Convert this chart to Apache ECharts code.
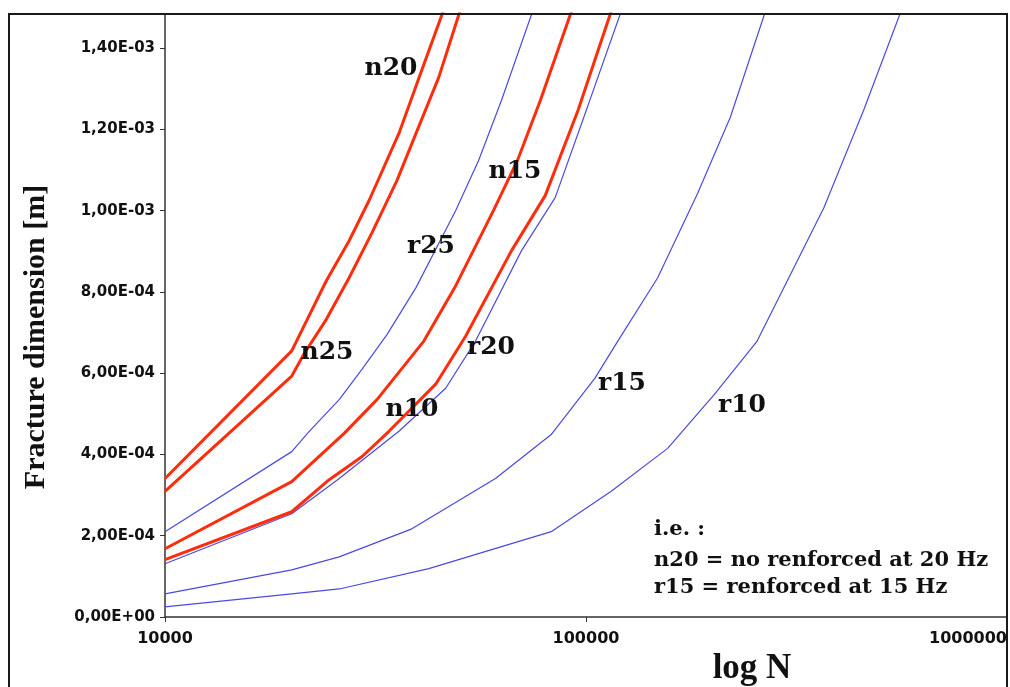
<!DOCTYPE html>
<html>
<head>
<meta charset="utf-8">
<script src="https://cdn.jsdelivr.net/npm/echarts@6/dist/echarts.min.js"></script>
<style>
  html, body { margin: 0; padding: 0; background: #fff; }
  #main { width: 1010px; height: 687px; }
</style>
</head>
<body>
<div id="main"></div>
<script>
// curves: [N, fracture dimension in m]
var n20 = [[10000, 0.341e-3], [20000, 0.655e-3], [24150, 0.827e-3],
  [27380, 0.926e-3], [30530, 1.025e-3], [35940, 1.190e-3], [40740, 1.346e-3], [45430, 1.481e-3], [48800, 1.568e-3]];
var n25 = [[10000, 0.309e-3], [20000, 0.593e-3], [21430, 0.649e-3], [24020, 0.728e-3], [27380, 0.835e-3],
  [31030, 0.946e-3], [35550, 1.074e-3], [38580, 1.165e-3], [44690, 1.328e-3], [49830, 1.481e-3], [53000, 1.560e-3]];
var r25 = [[10000, 0.210e-3], [20000, 0.407e-3], [22010, 0.457e-3], [25930, 0.535e-3], [29390, 0.610e-3],
  [33670, 0.695e-3], [39430, 0.810e-3], [49010, 1.000e-3], [55540, 1.123e-3], [62970, 1.271e-3], [74130, 1.481e-3], [80000, 1.560e-3]];
var n15 = [[10000, 0.168e-3], [20000, 0.333e-3], [26640, 0.452e-3], [31880, 0.535e-3], [41190, 0.679e-3],
  [48750, 0.810e-3], [60270, 1.000e-3], [68700, 1.123e-3], [77890, 1.271e-3], [91660, 1.481e-3], [98000, 1.560e-3]];
var n10 = [[10000, 0.141e-3], [20000, 0.259e-3], [24550, 0.338e-3], [29390, 0.395e-3], [34040, 0.457e-3],
  [43950, 0.573e-3], [51760, 0.691e-3], [66500, 0.901e-3], [80000, 1.037e-3], [95750, 1.247e-3], [113950, 1.481e-3], [121000, 1.560e-3]];
var r20 = [[10000, 0.131e-3], [20000, 0.254e-3], [25930, 0.341e-3], [35940, 0.457e-3], [46420, 0.563e-3],
  [54650, 0.679e-3], [70230, 0.901e-3], [84480, 1.032e-3], [101100, 1.259e-3], [120310, 1.481e-3], [127000, 1.560e-3]];
var r15 = [[10000, 0.057e-3], [20000, 0.116e-3], [25930, 0.148e-3], [38580, 0.217e-3], [60950, 0.341e-3],
  [82670, 0.449e-3], [105030, 0.588e-3], [119010, 0.679e-3], [148010, 0.835e-3], [184070, 1.042e-3],
  [220200, 1.230e-3], [264900, 1.481e-3], [278000, 1.560e-3]];
var r10 = [[10000, 0.025e-3], [20000, 0.057e-3], [25930, 0.069e-3], [42330, 0.119e-3], [82670, 0.210e-3],
  [114580, 0.309e-3], [156300, 0.415e-3], [201800, 0.548e-3], [255000, 0.679e-3], [367300, 1.007e-3],
  [456500, 1.247e-3], [555500, 1.481e-3], [585000, 1.560e-3]];

var redCurves = { n20: n20, n25: n25, n15: n15, n10: n10 };
var blueCurves = { r25: r25, r20: r20, r15: r15, r10: r10 };

var yMin = 0, yMax = 1.484e-3, yStep = 2e-4;
var xMin = 10000, xMax = 1000000;

var legendLines = ['i.e. :', 'n20 = no renforced at 20 Hz', 'r15 = renforced at 15 Hz'];

function sciLabel(v) {
  if (Math.abs(v) < 1e-12) return '0,00E+00';
  var parts = v.toExponential(2).split('e');
  var ex = parseInt(parts[1], 10);
  return parts[0].replace('.', ',') + 'E' + (ex < 0 ? '-' : '+') + String(Math.abs(ex)).padStart(2, '0');
}

var chart = echarts.init(document.getElementById('main'), null, { renderer: 'canvas' });

var series = [];
Object.keys(redCurves).forEach(function (k) {
  series.push({
    name: k, type: 'line', data: redCurves[k], showSymbol: false, smooth: false, clip: true,
    lineStyle: { color: '#ff2d0c', width: 3 }, z: 3
  });
});
Object.keys(blueCurves).forEach(function (k) {
  series.push({
    name: k, type: 'line', data: blueCurves[k], showSymbol: false, smooth: false, clip: true,
    lineStyle: { color: '#4a4ae0', width: 1.2 }, z: 2
  });
});

var labelFont = 'bold 25px "DejaVu Serif"';
function curveLabel(text, x, y) {
  return {
    type: 'text', x: x, y: y, z: 10,
    style: { text: text, font: labelFont, fill: '#111', align: 'center', verticalAlign: 'middle' }
  };
}

var option = {
  animation: false,
  backgroundColor: '#fff',
  grid: { left: 165, top: 14, right: 3, bottom: 70 },
  xAxis: {
    type: 'log', logBase: 10, min: xMin, max: xMax,
    axisLine: { onZero: false, lineStyle: { color: '#333', width: 1.5 } },
    axisTick: { length: 5, lineStyle: { color: '#333' } },
    minorTick: { show: false },
    splitLine: { show: false },
    axisLabel: {
      margin: 14, color: '#111', fontFamily: 'DejaVu Sans', fontWeight: 'bold', fontSize: 16,
      alignMaxLabel: 'right',
      formatter: function (v) { return String(Math.round(v)); }
    }
  },
  yAxis: {
    type: 'value', min: yMin, max: yMax, interval: yStep,
    axisLine: { show: true, lineStyle: { color: '#333', width: 1.5 } },
    axisTick: { show: true, length: 5, lineStyle: { color: '#333' } },
    splitLine: { show: false },
    axisLabel: {
      margin: 10, color: '#111', fontFamily: 'DejaVu Sans', fontWeight: 'bold', fontSize: 15,
      showMaxLabel: false,
      formatter: sciLabel
    }
  },
  series: series,
  graphic: [
    {
      type: 'rect', z: 20, silent: true,
      shape: { x: 9, y: 14, width: 998, height: 700 },
      style: { fill: 'none', stroke: '#1a1a1a', lineWidth: 2 }
    },
    {
      type: 'text', x: 36, y: 337, rotation: Math.PI / 2, z: 10,
      style: { text: 'Fracture dimension [m]', font: 'bold 30px "Liberation Serif"', fill: '#111',
        align: 'center', verticalAlign: 'middle' }
    },
    {
      type: 'text', x: 752, y: 669, z: 10,
      style: { text: 'log N', font: 'bold 35px "Liberation Serif"', fill: '#111',
        align: 'center', verticalAlign: 'middle' }
    },
    curveLabel('n20', 391, 68),
    curveLabel('n15', 515, 171),
    curveLabel('r25', 431, 246),
    curveLabel('n25', 327, 352),
    curveLabel('r20', 491, 347),
    curveLabel('n10', 412, 409),
    curveLabel('r15', 622, 383),
    curveLabel('r10', 742, 405),
    {
      type: 'text', x: 654, y: 530, z: 10,
      style: { text: legendLines[0], font: 'bold 21px "DejaVu Serif"', fill: '#111', align: 'left', verticalAlign: 'middle' }
    },
    {
      type: 'text', x: 654, y: 561, z: 10,
      style: { text: legendLines[1], font: 'bold 21px "DejaVu Serif"', fill: '#111', align: 'left', verticalAlign: 'middle' }
    },
    {
      type: 'text', x: 654, y: 588, z: 10,
      style: { text: legendLines[2], font: 'bold 21px "DejaVu Serif"', fill: '#111', align: 'left', verticalAlign: 'middle' }
    }
  ]
};

chart.setOption(option);
</script>
</body>
</html>
